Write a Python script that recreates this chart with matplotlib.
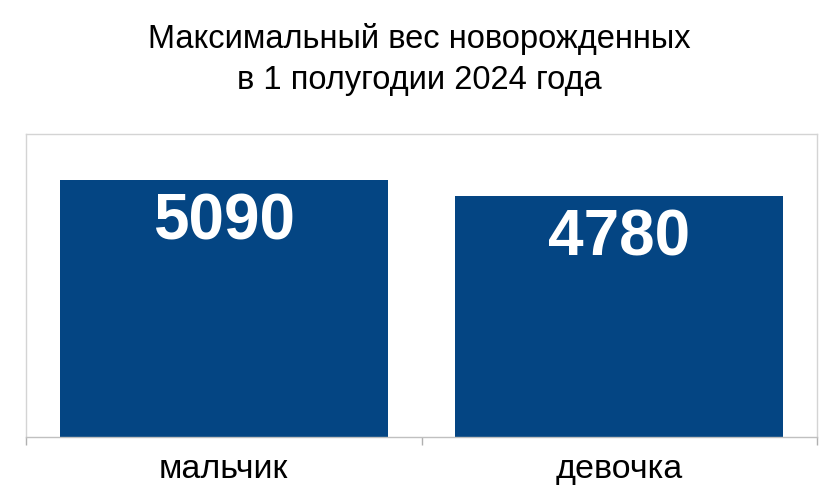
import matplotlib
matplotlib.use('Agg')
import matplotlib.pyplot as plt
from matplotlib.ticker import FixedLocator

plt.rcParams['font.family'] = ['Liberation Sans', 'DejaVu Sans']

# data
categories = ['мальчик', 'девочка']
weights = [5090, 4780]
title = 'Максимальный вес новорожденных\nв 1 полугодии 2024 года'

fig = plt.figure(figsize=(8.38, 4.92), dpi=100)
W, H = 838, 492
ax = fig.add_axes([26 / W, (H - 437) / H, (817 - 26) / W, (437 - 134) / H])

x = range(len(categories))
bars = ax.bar(x, weights, width=0.83, color='#044583', zorder=2)

for b, v in zip(bars, weights):
    ax.annotate(str(v), (b.get_x() + b.get_width() / 2, v),
                xytext=(0, -43), textcoords='offset pixels',
                ha='center', va='center', color='white',
                fontsize=46, fontweight='bold')

ax.set_xlim(-0.5, len(categories) - 0.5)
ax.set_ylim(0, 6000)
ax.set_yticks([])

# tick marks on category boundaries, labels in the middle
ax.xaxis.set_major_locator(FixedLocator([-0.5, 0.5, 1.5]))
ax.xaxis.set_major_formatter(plt.NullFormatter())
ax.xaxis.set_minor_locator(FixedLocator(list(x)))
ax.set_xticklabels(categories, minor=True, fontsize=24.5)
ax.tick_params(axis='x', which='major', length=6, color='#b0b0b0', width=1)
ax.tick_params(axis='x', which='minor', length=0, pad=12)

for s in ax.spines.values():
    s.set_color('#d4d4d4')
    s.set_linewidth(1)
ax.spines['bottom'].set_color('#c0c0c0')

fig.suptitle(title, y=1 - 23 / H, va='top', fontsize=23.5, linespacing=1.4)

fig.savefig('out.png', dpi=100)
